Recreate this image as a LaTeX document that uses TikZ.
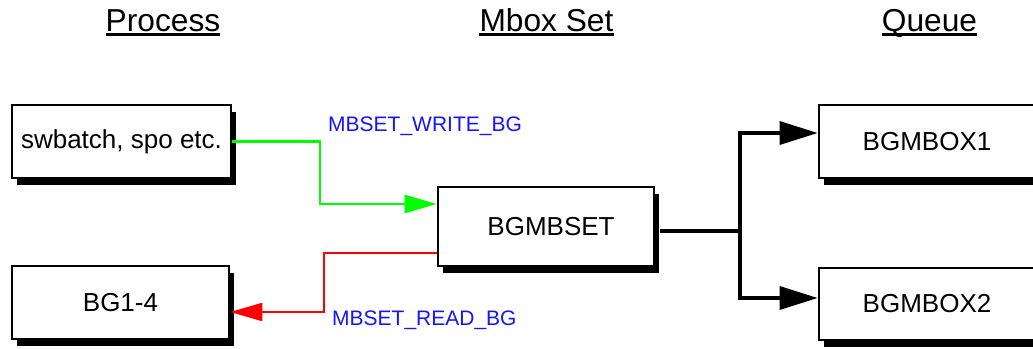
\documentclass[tikz,border=0pt]{standalone}
\usepackage{fontspec}
\setmainfont{Liberation Sans}
\usetikzlibrary{arrows.meta,shadows}
\definecolor{lgreen}{RGB}{0,255,0}
\definecolor{lred}{RGB}{255,0,0}
\definecolor{lblue}{RGB}{20,20,255}
\tikzset{
  procbox/.style={draw=black, line width=2.6pt, fill=white, rectangle, inner sep=0pt,
    font=\fontsize{26}{30}\selectfont,
    drop shadow={shadow xshift=5pt, shadow yshift=-7pt, fill=black, opacity=1}},
  header/.style={inner sep=0pt, anchor=base, font=\fontsize{31.7}{36}\selectfont},
  hline/.style={line width=2.2pt},
  lbl/.style={inner sep=0pt, anchor=base west, text=lblue, font=\fontsize{21}{24}\selectfont},
  gline/.style={draw=lgreen, line width=2.5pt, -{Triangle[length=32pt,width=18pt]}},
  rline/.style={draw=lred, line width=2.3pt, -{Triangle[length=32pt,width=18pt]}},
  kline/.style={draw=black, line width=3.4pt},
  karrow/.style={draw=black, line width=3.4pt, -{Triangle[length=38pt,width=23pt]}}
}
\begin{document}
\begin{tikzpicture}[x=1pt,y=-1pt]
\useasboundingbox (0,0) rectangle (1033,348);
% headers
\node[header] (hp) at (163,31) {Process};
\node[header] (hm) at (546.5,31) {Mbox Set};
\node[header] (hq) at (929.5,31) {Queue};
\foreach \h in {hp,hm,hq}{
  \draw[hline] ([yshift=-3.5pt]\h.base west) -- ([yshift=-3.5pt]\h.base east);
}
% boxes
\node[procbox, minimum width=219pt, minimum height=73pt] (sw) at (121.5,141.5) {swbatch, spo etc.};
\node[procbox, minimum width=217pt, minimum height=73pt] (bg) at (120.5,302.5) {BG1-4};
\node[procbox, minimum width=216pt, minimum height=79pt] (mb) at (546,226.5) {\hspace{10pt}BGMBSET};
\node[procbox, minimum width=216pt, minimum height=73pt] (q1) at (927,141.5) {BGMBOX1};
\node[procbox, minimum width=216pt, minimum height=72pt] (q2) at (927,304) {BGMBOX2};
% coordinates
\coordinate (g1) at (320,141.5);
\coordinate (g2) at (320,204);
\coordinate (gend) at (mb.west |- g2);
\coordinate (r0) at (mb.west |- 0,253);
\coordinate (r1) at (324,253);
\coordinate (r2) at (324,312);
\coordinate (rend) at (bg.east |- r2);
\coordinate (k0) at (660,231);
\coordinate (k1) at (740,231);
\coordinate (ka) at (740,133);
\coordinate (kb) at (740,298);
\coordinate (kaend) at (q1.west |- ka);
\coordinate (kbend) at (q2.west |- kb);
% connectors
\draw[gline] (sw.east |- g1) -- (g1) -- (g2) -- (gend);
\draw[rline] (r0) -- (r1) -- (r2) -- (rend);
\draw[kline] (k0) -- (k1);
\draw[kline] (ka) -- (kb);
\draw[karrow] ([xshift=-1.7pt]ka) -- (kaend);
\draw[karrow] ([xshift=-1.7pt]kb) -- (kbend);
% labels
\node[lbl] (lw) at (328,131) {MBSET\_WRITE\_BG};
\node[lbl] (lr) at (332,325) {MBSET\_READ\_BG};
\end{tikzpicture}
\end{document}
